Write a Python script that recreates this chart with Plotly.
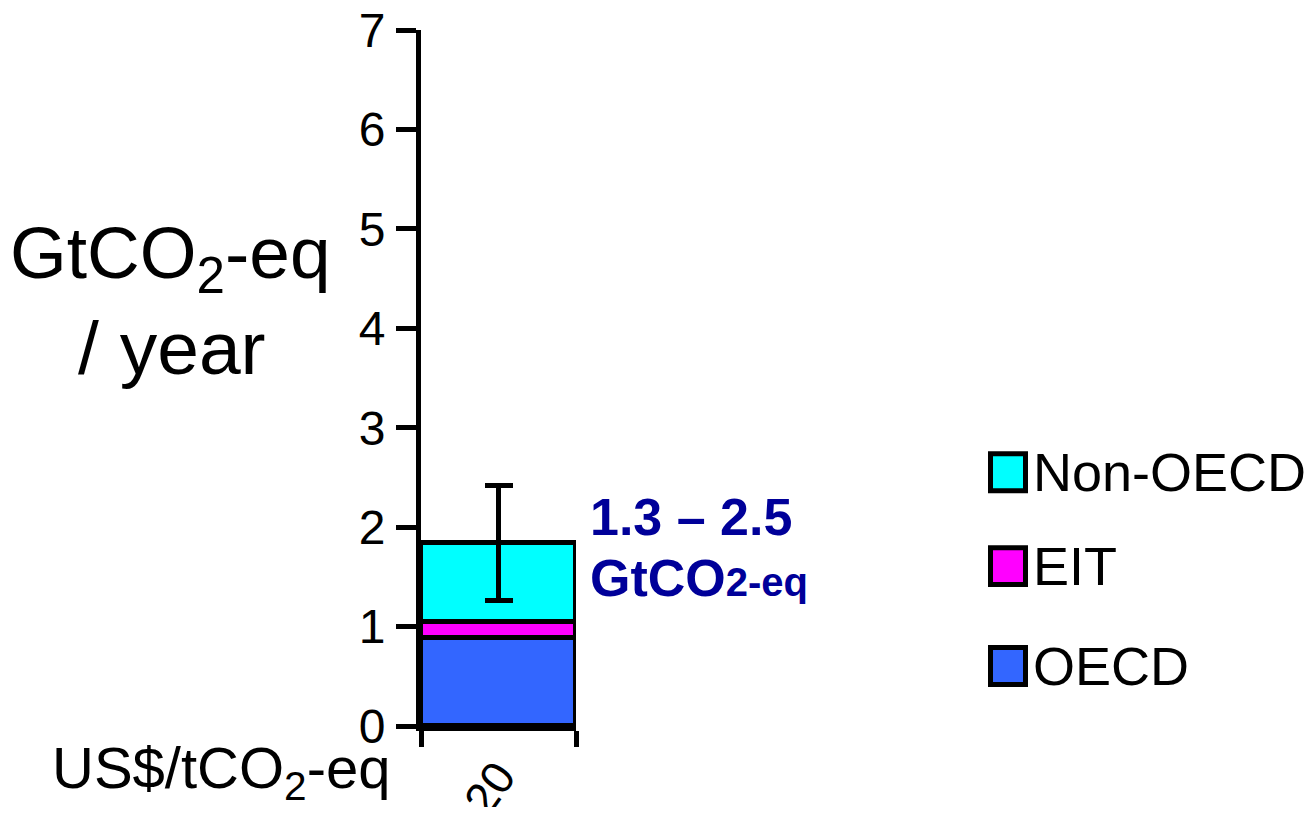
import plotly.graph_objects as go

# ---- data ----
categories = ["20"]
regions = ["OECD", "EIT", "Non-OECD"]
oecd = [0.89]
eit = [0.16]
non_oecd = [0.79]
range_low = [1.26]
range_high = [2.42]
y_ticks = [0, 1, 2, 3, 4, 5, 6, 7]
range_label = "1.3 – 2.5"

colors = {"OECD": "#3366FF", "EIT": "#FF00FF", "Non-OECD": "#00FFFF"}
FONT = "Liberation Sans, Arial, sans-serif"

OFF = 8  # default page body margin
W, H = 1316 - 2 * OFF, 815 - 2 * OFF
# plot-area box in screen pixels (reference coordinates)
L, R, T, B = 421, 576, 29.5, 726


def px(xs):
    return (xs - L) / (R - L)


def py(ys):
    return (B - ys) / (B - T)


total = [a + b + c for a, b, c in zip(oecd, eit, non_oecd)]
err_plus = [h - t for h, t in zip(range_high, total)]
err_minus = [t - l for t, l in zip(total, range_low)]

fig = go.Figure()
series = {"OECD": oecd, "EIT": eit, "Non-OECD": non_oecd}
for name in regions:
    kw = {}
    if name == "Non-OECD":
        kw["error_y"] = dict(type="data", array=err_plus, arrayminus=err_minus,
                             symmetric=False, color="black", thickness=5, width=14)
    fig.add_trace(go.Bar(
        x=categories, y=series[name], name=name, width=1,
        marker=dict(color=colors[name], line=dict(color="black", width=5)),
        showlegend=False, **kw))

fig.update_layout(
    barmode="stack",
    width=W, height=H,
    margin=dict(l=L - OFF, r=W - (R - OFF), t=T - OFF, b=H - (B - OFF), autoexpand=False),
    paper_bgcolor="white", plot_bgcolor="white",
    font=dict(family=FONT, color="black"),
    bargap=0,
)
fig.update_yaxes(range=[0, 7], tickvals=y_ticks, showgrid=False, zeroline=False,
                 showline=True, linewidth=5, linecolor="black",
                 ticks="outside", ticklen=20, tickwidth=5, tickcolor="black",
                 tickfont=dict(size=48, family=FONT, color="black"),
                 ticklabelstandoff=1, ticklabeloverflow="allow", automargin=False)
fig.update_xaxes(type="category", range=[-0.5, 0.5], tickson="boundaries",
                 showgrid=False, showline=True, linewidth=5, linecolor="black",
                 ticks="outside", ticklen=16, tickwidth=5, tickcolor="black",
                 tickangle=-55, tickfont=dict(size=46, family=FONT, color="black"),
                 ticklabeloverflow="allow", automargin=False)

ann = []
# y-axis title
ann.append(dict(x=px(170), y=py(258), xref="paper", yref="paper",
                text="GtCO<sub>2</sub>-eq", showarrow=False,
                font=dict(size=73, family=FONT, color="black"),
                xanchor="center", yanchor="middle"))
ann.append(dict(x=px(172), y=py(348), xref="paper", yref="paper",
                text="/ year", showarrow=False,
                font=dict(size=75, family=FONT, color="black"),
                xanchor="center", yanchor="middle"))
# x-axis unit label
ann.append(dict(x=px(50), y=py(772), xref="paper", yref="paper",
                text="US$/tCO<sub>2</sub>-eq", showarrow=False,
                font=dict(size=58, family=FONT, color="black"),
                xanchor="left", yanchor="middle"))
# range annotation
ann.append(dict(x=px(588), y=py(517), xref="paper", yref="paper",
                text="<b>" + range_label + "</b>", showarrow=False,
                font=dict(size=52, family=FONT, color="#000099"),
                xanchor="left", yanchor="middle"))
ann.append(dict(x=px(588), y=py(578), xref="paper", yref="paper",
                text="<b>GtCO<span style='font-size:40px'>2-eq</span></b>",
                showarrow=False,
                font=dict(size=52, family=FONT, color="#000099"),
                xanchor="left", yanchor="middle"))

# manual legend
shapes = []
legend_rows = [("Non-OECD", 472), ("EIT", 566), ("OECD", 666)]
for name, yc in legend_rows:
    shapes.append(dict(type="rect", xref="paper", yref="paper",
                       x0=px(990.5), x1=px(1025.5), y0=py(yc + 18.5), y1=py(yc - 18.5),
                       fillcolor=colors[name], line=dict(color="black", width=5)))
    ann.append(dict(x=px(1031), y=py(yc), xref="paper", yref="paper",
                    text=name, showarrow=False,
                    font=dict(size=54, family=FONT, color="black"),
                    xanchor="left", yanchor="middle"))

fig.update_layout(annotations=ann, shapes=shapes)
fig.write_html("out.html")
